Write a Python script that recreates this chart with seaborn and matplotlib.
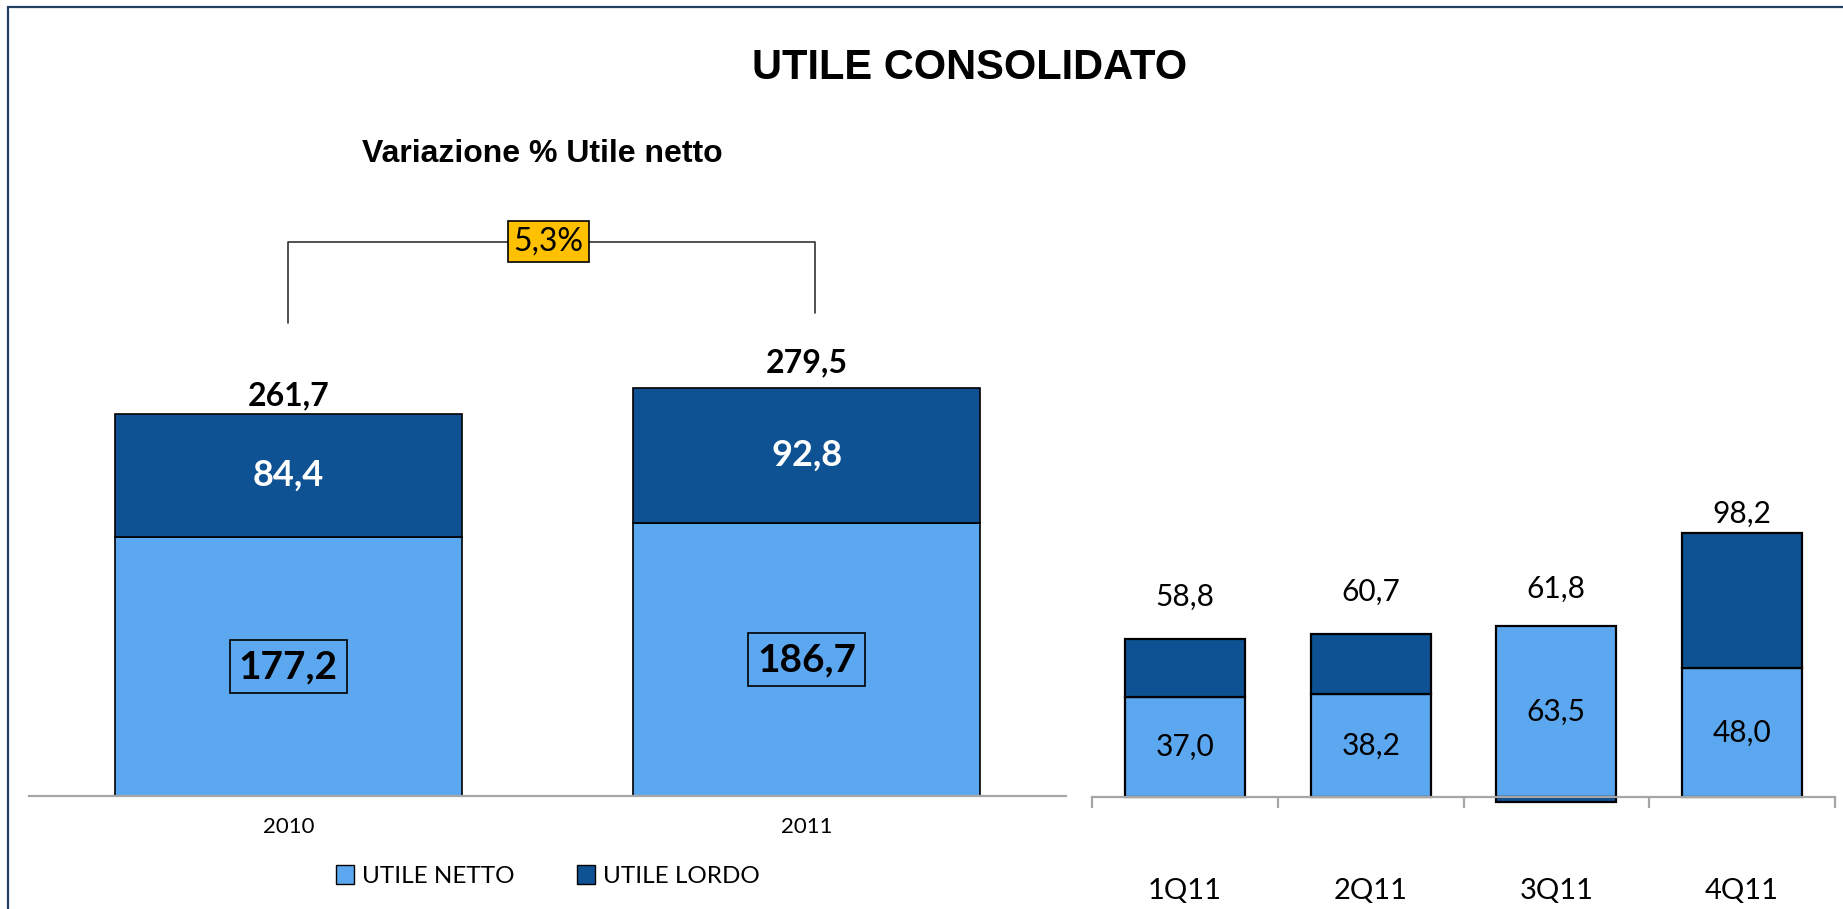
import numpy as np
import matplotlib
matplotlib.use("Agg")
import matplotlib.pyplot as plt
import seaborn as sns
from matplotlib.patches import Patch
from matplotlib.lines import Line2D
from matplotlib.ticker import FixedLocator

# ---------------- data ----------------
years = ["2010", "2011"]
year_netto = [177.2, 186.7]
year_diff = [84.4, 92.8]          # dark segment (lordo - netto)
year_lordo = [261.7, 279.5]
variazione = "5,3%"

quarters = ["1Q11", "2Q11", "3Q11", "4Q11"]
q_netto = [37.0, 38.2, 63.5, 48.0]
q_lordo = [58.8, 60.7, 61.8, 98.2]

series_names = ["UTILE NETTO", "UTILE LORDO"]

LIGHT = "#5BA8F0"
DARK = "#0E5293"
GOLD = "#FFC000"
AXGRAY = "#A6A6A6"

def fmt(v):
    return f"{v:.1f}".replace(".", ",")

sns.set_theme(style="white")
plt.rcParams["font.family"] = ["Lato", "DejaVu Sans"]
plt.rcParams["text.color"] = "black"
plt.rcParams["xtick.color"] = "black"

W, H = 1843, 909
fig = plt.figure(figsize=(W / 100, H / 100), dpi=100)
fig.patch.set_facecolor("white")

def rect(x0, x1, ybot, ytop):
    return [x0 / W, (H - ybot) / H, (x1 - x0) / W, (ybot - ytop) / H]

axL = fig.add_axes(rect(29, 1066, 796, 358))
axR = fig.add_axes(rect(1092, 1835, 823.9, 501.1))

# ---------------- left panel (annual) ----------------
sns.barplot(x=years, y=year_netto, color=LIGHT, saturation=1, width=0.67,
            edgecolor="black", linewidth=1.2, errorbar=None, ax=axL)
sns.barplot(x=years, y=year_diff, bottom=year_netto, color=DARK, saturation=1,
            width=0.67, edgecolor="black", linewidth=1.2, errorbar=None, ax=axL)
axL.set_xlim(-0.5, 1.5)
axL.set_ylim(0, 300)
axL.set_yticks([])
axL.set_xlabel("")
axL.set_ylabel("")
for s in ["left", "top", "right"]:
    axL.spines[s].set_visible(False)
axL.spines["bottom"].set_color(AXGRAY)
axL.spines["bottom"].set_linewidth(1.6)
axL.tick_params(axis="x", length=0, pad=15, labelsize=16, colors="black")

tot_off = [13, 18]
for i in range(len(years)):
    axL.text(i, year_netto[i] / 2, fmt(year_netto[i]), ha="center", va="center",
             fontsize=28, fontweight="bold", color="black",
             bbox=dict(boxstyle="square,pad=0.23", fc="none", ec="black", lw=1.2))
    axL.text(i, year_netto[i] + year_diff[i] / 2, fmt(year_diff[i]), ha="center",
             va="center", fontsize=26, fontweight="bold", color="white")
    axL.annotate(fmt(year_lordo[i]), (i, year_lordo[i]), xytext=(0, tot_off[i]),
                 textcoords="offset points", ha="center", va="center",
                 fontsize=23, fontweight="bold", color="black", annotation_clip=False)

# bracket with percentage change
br_y = max(year_lordo) + 100
br_legs = [year_lordo[0] + 62, year_lordo[1] + 51]
br_x = [0, 1.015]
axL.plot([br_x[0], br_x[0], br_x[1], br_x[1]], [br_legs[0], br_y, br_y, br_legs[1]],
         color="#333333", lw=1.2, clip_on=False, zorder=3)
axL.text(0.502, br_y, variazione, ha="center", va="center", fontsize=23,
         color="black", zorder=4,
         bbox=dict(boxstyle="square,pad=0.17", fc=GOLD, ec="black", lw=1.2))

# ---------------- right panel (quarterly) ----------------
q_seg = [l - n for l, n in zip(q_lordo, q_netto)]
q_bottom = [n if s > 0 else 0 for s, n in zip(q_seg, q_netto)]
sns.barplot(x=quarters, y=q_netto, color=LIGHT, saturation=1, width=0.646,
            edgecolor="black", linewidth=1.6, errorbar=None, ax=axR)
sns.barplot(x=quarters, y=q_seg, bottom=q_bottom, color=DARK, saturation=1,
            width=0.646, edgecolor="black", linewidth=1.6, errorbar=None, ax=axR)
axR.set_xlim(-0.5, 3.5)
axR.set_ylim(-10, 110)
axR.set_yticks([])
axR.set_xlabel("")
axR.set_ylabel("")
axR.set_facecolor("none")
for s in ["left", "top", "right"]:
    axR.spines[s].set_visible(False)
axR.spines["bottom"].set_position(("data", 0))
axR.spines["bottom"].set_color(AXGRAY)
axR.spines["bottom"].set_linewidth(1.6)
axR.spines["bottom"].set_zorder(5)
axR.xaxis.set_minor_locator(FixedLocator([-0.5, 0.5, 1.5, 2.5, 3.5]))
axR.tick_params(axis="x", which="minor", bottom=True, length=8, width=1.6,
                color=AXGRAY, direction="out")
axR.tick_params(axis="x", which="major", length=0, pad=58, labelsize=21,
                labelcolor="black")

q_off = [30, 30, 27, 14]
for i in range(len(quarters)):
    axR.text(i, q_netto[i] / 2, fmt(q_netto[i]), ha="center", va="center",
             fontsize=21.5, color="black")
    top = max(q_netto[i], q_lordo[i])
    axR.annotate(fmt(q_lordo[i]), (i, top), xytext=(0, q_off[i]),
                 textcoords="offset points", ha="center", va="center",
                 fontsize=21.5, color="black", annotation_clip=False)

# ---------------- titles ----------------
fig.text(970 / W, 1 - 68 / H, "UTILE CONSOLIDATO", ha="center", va="center",
         fontsize=30, fontweight="bold", color="black",
         family=["Liberation Sans", "DejaVu Sans"])
fig.text(542 / W, 1 - 154 / H, "Variazione % Utile netto", ha="center",
         va="center", fontsize=23, fontweight="bold", color="black",
         family=["Liberation Sans", "DejaVu Sans"])

# ---------------- legend ----------------
handles = [Patch(facecolor=LIGHT, edgecolor="black", lw=1),
           Patch(facecolor=DARK, edgecolor="black", lw=1)]
leg = fig.legend(handles, series_names, loc="center",
                 bbox_to_anchor=(548 / W, 1 - 876 / H),
                 ncol=2, frameon=False, fontsize=17.5, handlelength=0.72,
                 handleheight=0.8, handletextpad=0.34, columnspacing=2.6, borderpad=0)
for t in leg.get_texts():
    t.set_color("black")

# ---------------- frame ----------------
frame_c = "#243F60"
fig.add_artist(Line2D([8 / W, 8 / W], [0, 1 - 7 / H], color=frame_c, lw=1.6))
fig.add_artist(Line2D([8 / W, 1], [1 - 7 / H, 1 - 7 / H], color=frame_c, lw=1.6))

fig.savefig("out.png", dpi=100, facecolor="white")
